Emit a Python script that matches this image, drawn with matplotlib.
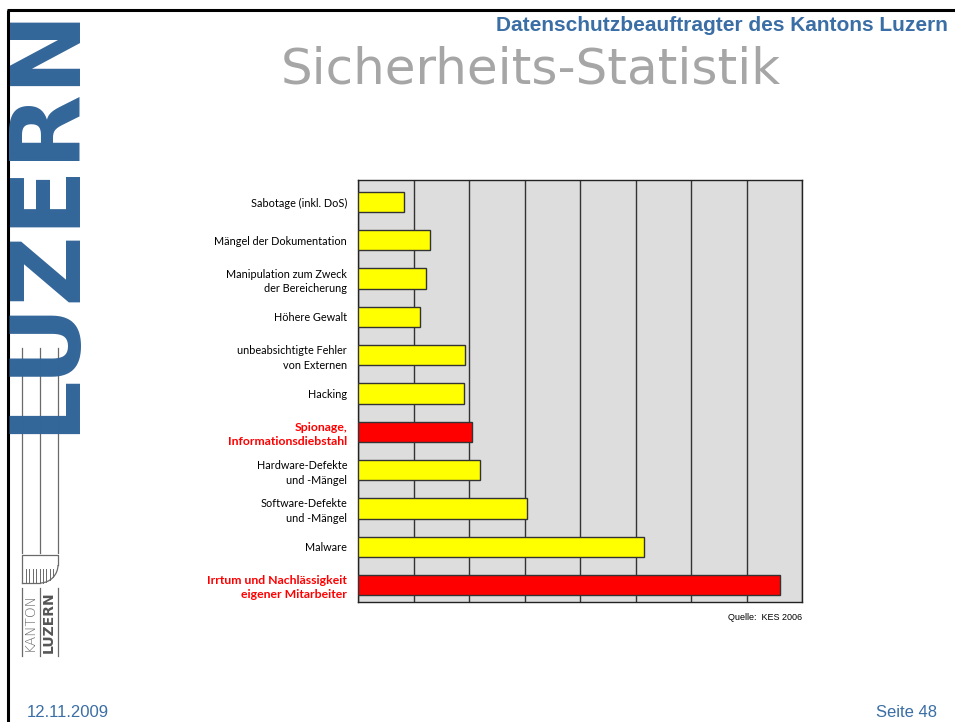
import numpy as np
import matplotlib.pyplot as plt
from matplotlib.patches import Arc

plt.close("all")

# Sicherheits-Statistik (Quelle: KES 2006), Werte aus dem Bild geschaetzt (Skala 0-80)
categories = ['Sabotage (inkl. DoS)',
              'Mängel der Dokumentation',
              'Manipulation zum Zweck\nder Bereicherung',
              'Höhere Gewalt',
              'unbeabsichtigte Fehler\nvon Externen',
              'Hacking',
              'Spionage,\nInformationsdiebstahl',
              'Hardware-Defekte\nund -Mängel',
              'Software-Defekte\nund -Mängel',
              'Malware',
              'Irrtum und Nachlässigkeit\neigener Mitarbeiter']
values = [8.3, 13.0, 12.2, 11.1, 19.3, 19.1, 20.4, 22.0, 30.4, 51.4, 76.0]
highlight = [False, False, False, False, False, False, True, False, False, False, True]

W, H = 955, 722
fig = plt.figure(figsize=(W / 100, H / 100), dpi=100)

blue = '#3a6ea5'

# slide decoration in pixel coordinates
deco = fig.add_axes([0, 0, 1, 1])
deco.set_xlim(0, W)
deco.set_ylim(H, 0)
deco.axis('off')
deco.text(72, 219, 'LUZERN', rotation=90, rotation_mode='anchor', ha='center', va='baseline',
          fontsize=70, fontweight='bold', color='#336699', family='DejaVu Sans')
deco.plot([7, W], [10, 10], color='black', lw=2.2, solid_capstyle='butt')
deco.plot([8, 8], [10, H], color='black', lw=2.2, solid_capstyle='butt')
for x in (22, 40, 58):
    deco.plot([x, x], [348, 553], color='#6a6a6a', lw=0.9)
    deco.plot([x, x], [588, 656], color='#6a6a6a', lw=0.9)
# little shield of the logo
deco.plot([22, 22, 58, 58], [583, 555, 555, 565], color='#6a6a6a', lw=0.9)
deco.plot([22, 40], [583, 583], color='#6a6a6a', lw=0.9)
deco.add_patch(Arc((40, 565), 36, 36, theta1=0, theta2=90, color='#6a6a6a', lw=0.9))
for x in np.arange(26, 55, 3.4):
    yb = 583 if x <= 40 else 565 + np.sqrt(max(18 ** 2 - (x - 40) ** 2, 0))
    deco.plot([x, x], [569, yb], color='#6a6a6a', lw=0.7)
deco.text(30, 622, 'KANTON', rotation=90, ha='center', va='center', fontsize=10,
          color='#6a6a6a', family='DejaVu Sans', fontweight='light')
deco.text(49, 622, 'LUZERN', rotation=90, ha='center', va='center', fontsize=10,
          color='#555555', family='DejaVu Sans', fontweight='bold')

deco.text(948, 31, 'Datenschutzbeauftragter des Kantons Luzern', ha='right', va='baseline',
          fontsize=15, fontweight='bold', color=blue, family='Liberation Sans')
deco.text(531, 84, 'Sicherheits-Statistik', ha='center', va='baseline',
          fontsize=36, color='#a6a6a6', family='DejaVu Sans')
deco.text(27, 717, '12.11.2009', ha='left', va='baseline', fontsize=12, color=blue,
          family='Liberation Sans')
deco.text(937, 717, 'Seite 48', ha='right', va='baseline', fontsize=12, color=blue,
          family='Liberation Sans')
deco.text(802, 620, 'Quelle:  KES 2006', ha='right', va='baseline', fontsize=6.5,
          color='black', family='Liberation Sans')

# bar chart
left, right, top, bottom = 358.3, 802.3, 180.3, 601.7
ax = fig.add_axes([left / W, 1 - bottom / H, (right - left) / W, (bottom - top) / H])
ax.set_facecolor('#dddddd')
y = np.arange(len(categories))
colors = ['#ff0000' if h else '#ffff00' for h in highlight]
ax.barh(y, values, height=0.53, color=colors, edgecolor='#333333', linewidth=1, zorder=3)
ax.set_xlim(0, 80)
ax.set_ylim(10.436, -0.567)
ax.set_xticks(np.arange(0, 81, 10))
ax.set_xticklabels([])
ax.xaxis.grid(True, color='#333333', lw=1, zorder=1)
ax.set_axisbelow(True)
ax.tick_params(axis='both', length=0)
ax.tick_params(axis='y', pad=8)
ax.set_yticks(y)
ax.set_yticklabels(categories)
for lab, h in zip(ax.get_yticklabels(), highlight):
    lab.set_family('Lato')
    lab.set_fontsize(7.8)
    lab.set_linespacing(1.4)
    if h:
        lab.set_color('#ff0000')
        lab.set_fontweight('bold')
        lab.set_fontsize(8.8)
        lab.set_linespacing(1.35)
for s in ax.spines.values():
    s.set_color('#222222')
    s.set_linewidth(1)

plt.savefig('out.png', dpi=100)
